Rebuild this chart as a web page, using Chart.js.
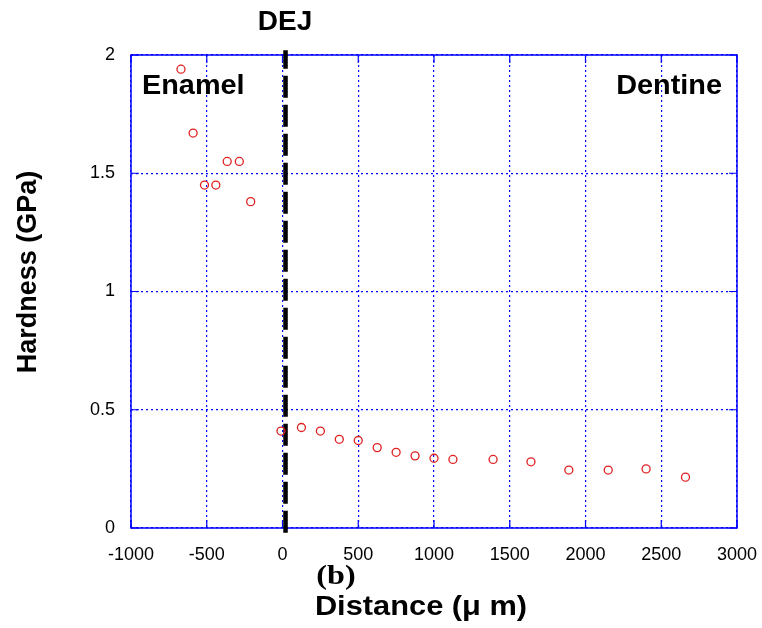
<!DOCTYPE html>
<html>
<head>
<meta charset="utf-8">
<script src="https://cdn.jsdelivr.net/npm/chart.js@4.4.1/dist/chart.umd.min.js"></script>
<style>
  body { margin: 0; background: #fff; }
  canvas { display: block; }
</style>
</head>
<body>
<canvas id="hardnessChart" width="762" height="628"></canvas>
<script>
// Hardness profile across the DEJ
const enamelX = [-670, -590, -515, -440, -365, -285, -210];
const enamelY = [1.94, 1.67, 1.45, 1.45, 1.55, 1.55, 1.38];

const dentineX = [-10, 125, 250, 375, 500, 625, 750, 875, 1000, 1125, 1390, 1640, 1890, 2150, 2400, 2660];
const dentineY = [0.41, 0.425, 0.41, 0.375, 0.37, 0.34, 0.32, 0.305, 0.295, 0.29, 0.29, 0.28, 0.245, 0.245, 0.25, 0.215];

const dejX = 20;
const dejY = [-0.02, 2.02];

const xRange = [-1000, 3000];
const xStep = 500;
const yRange = [0, 2];
const yStep = 0.5;

const BLUE = '#0000ff';
const RED = '#e02020';
const SANS = '"Liberation Sans", Arial, sans-serif';

const points = enamelX.map((x, i) => ({ x, y: enamelY[i] }))
    .concat(dentineX.map((x, i) => ({ x, y: dentineY[i] })));

function stretchText(ctx, text, x, y, font, sx, align) {
    ctx.save();
    ctx.font = font;
    ctx.fillStyle = '#000';
    ctx.textBaseline = 'middle';
    ctx.textAlign = align || 'center';
    ctx.translate(x, y);
    ctx.scale(sx, 1);
    ctx.fillText(text, 0, 0);
    ctx.restore();
}

const frame = {
    id: 'frame',
    beforeDatasetsDraw(chart) {
        const { ctx, chartArea: a, scales } = chart;
        ctx.save();
        ctx.strokeStyle = BLUE;
        ctx.lineWidth = 1.5;
        ctx.setLineDash([]);
        ctx.strokeRect(a.left, a.top, a.right - a.left, a.bottom - a.top);
        // inward ticks on all four sides
        ctx.beginPath();
        for (let v = xRange[0]; v <= xRange[1]; v += xStep) {
            const px = scales.x.getPixelForValue(v);
            ctx.moveTo(px, a.bottom); ctx.lineTo(px, a.bottom - 8);
            ctx.moveTo(px, a.top); ctx.lineTo(px, a.top + 8);
        }
        for (let v = yRange[0]; v <= yRange[1]; v += yStep) {
            const py = scales.y.getPixelForValue(v);
            ctx.moveTo(a.left, py); ctx.lineTo(a.left + 8, py);
            ctx.moveTo(a.right, py); ctx.lineTo(a.right - 8, py);
        }
        ctx.lineWidth = 1.2;
        ctx.stroke();
        ctx.restore();
    },
    afterDraw(chart) {
        const { ctx } = chart;
        stretchText(ctx, 'DEJ', 285, 22, 'bold 28px ' + SANS, 1.0);
        stretchText(ctx, 'Enamel', 142, 86, 'bold 28px ' + SANS, 1.03, 'left');
        stretchText(ctx, 'Dentine', 722, 86, 'bold 28px ' + SANS, 1.03, 'right');
        stretchText(ctx, '(b)', 336, 577, 'bold 28px "Liberation Serif", "Times New Roman", serif', 1.15);
        stretchText(ctx, 'Distance (\u03bc m)', 421, 607, 'bold 28px ' + SANS, 1.1);

        ctx.save();
        ctx.translate(29, 272);
        ctx.rotate(-Math.PI / 2);
        stretchText(ctx, 'Hardness (GPa)', 0, 0, 'bold 27px ' + SANS, 1.0);
        ctx.restore();
    }
};

new Chart(document.getElementById('hardnessChart'), {
    type: 'scatter',
    data: {
        datasets: [{
            label: 'Hardness',
            data: points,
            pointStyle: 'circle',
            pointRadius: 4,
            pointBorderWidth: 1.3,
            borderColor: RED,
            backgroundColor: 'rgba(0,0,0,0)'
        }, {
            type: 'line',
            label: 'DEJ',
            data: dejY.map(y => ({ x: dejX, y })),
            borderColor: '#000',
            borderWidth: 4.5,
            borderDash: [22, 7],
            pointRadius: 0,
            clip: false,
            fill: false
        }]
    },
    options: {
        responsive: false,
        animation: false,
        layout: { padding: { left: 0, top: 55, right: 25, bottom: 0 } },
        plugins: { legend: { display: false }, tooltip: { enabled: false } },
        scales: {
            x: {
                type: 'linear',
                min: xRange[0], max: xRange[1],
                afterFit: s => { s.height = 100; s.paddingLeft = 0; s.paddingRight = 0; },
                grid: { color: BLUE, lineWidth: 1.2, drawTicks: false },
                border: { display: false, dash: [2, 3] },
                ticks: {
                    stepSize: xStep,
                    padding: 16,
                    color: '#000',
                    font: { family: SANS, size: 18 },
                    callback: v => String(v)
                }
            },
            y: {
                type: 'linear',
                min: yRange[0], max: yRange[1],
                afterFit: s => { s.width = 131; s.paddingTop = 0; s.paddingBottom = 0; },
                grid: { color: BLUE, lineWidth: 1.3, drawTicks: false },
                border: { display: false, dash: [2, 3] },
                ticks: {
                    stepSize: yStep,
                    padding: 16,
                    color: '#000',
                    font: { family: SANS, size: 18 },
                    callback: v => String(v)
                }
            }
        }
    },
    plugins: [frame]
});
</script>
</body>
</html>
